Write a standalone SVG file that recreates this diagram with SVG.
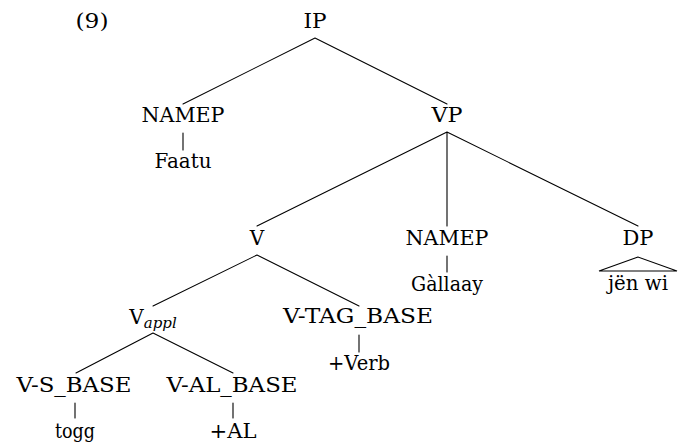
<svg xmlns="http://www.w3.org/2000/svg" width="691" height="448" viewBox="0 0 691 448">
  <style>
    .lbl { font-family: 'DejaVu Serif', 'Liberation Serif', serif; font-size: 20px; fill: #000; text-anchor: middle; }
    .edge { stroke: #000; stroke-width: 1.1; fill: none; stroke-linecap: round; }
  </style>
  <rect width="691" height="448" fill="#fff"/>
  <text class="lbl" x="92" y="28" textLength="33" lengthAdjust="spacingAndGlyphs">(9)</text>

  <!-- tree edges -->
  <g id="connectors">
    <path class="edge" d="M315,38 L183,104 M315,38 L447,104"/>
    <path class="edge" d="M183,133 L183,150"/>
    <path class="edge" d="M447,132 L257,226 M447,132 L447,226 M447,132 L638,226"/>
    <path class="edge" d="M257,255 L153,306 M257,255 L359,306"/>
    <path class="edge" d="M447,256 L447,272"/>
    <path class="edge" d="M638,257 L599,271 L677,271 Z"/>
    <path class="edge" d="M153,333 L76,373 M153,333 L233,373"/>
    <path class="edge" d="M359,335 L359,352"/>
    <path class="edge" d="M75,403 L75,418 M233,403 L233,418"/>
  </g>

  <g id="ip"><text class="lbl" x="315" y="28" textLength="23" lengthAdjust="spacingAndGlyphs">IP</text></g>
  <g id="namep1"><text class="lbl" x="183" y="122" textLength="83" lengthAdjust="spacingAndGlyphs">NAMEP</text></g>
  <g id="faatu"><text class="lbl" x="183" y="168" textLength="57" lengthAdjust="spacingAndGlyphs">Faatu</text></g>
  <g id="vp"><text class="lbl" x="447" y="122" textLength="31" lengthAdjust="spacingAndGlyphs">VP</text></g>
  <g id="v"><text class="lbl" x="257" y="245">V</text></g>
  <g id="namep2"><text class="lbl" x="447" y="245" textLength="83" lengthAdjust="spacingAndGlyphs">NAMEP</text></g>
  <g id="gallaay"><text class="lbl" x="447" y="291" textLength="72" lengthAdjust="spacingAndGlyphs">Gàllaay</text></g>
  <g id="dp"><text class="lbl" x="638" y="245" textLength="31" lengthAdjust="spacingAndGlyphs">DP</text></g>
  <g id="jenwi"><text class="lbl" x="638" y="290" textLength="60" lengthAdjust="spacingAndGlyphs">jën wi</text></g>
  <g id="vappl"><text class="lbl" x="153" y="324">V<tspan font-style="italic" font-size="15" dy="4">appl</tspan></text></g>
  <g id="vtagbase"><text class="lbl" x="358" y="323" textLength="150" lengthAdjust="spacingAndGlyphs">V-TAG_BASE</text></g>
  <g id="verb"><text class="lbl" x="359" y="370" textLength="62" lengthAdjust="spacingAndGlyphs">+Verb</text></g>
  <g id="vsbase"><text class="lbl" x="74" y="392" textLength="115" lengthAdjust="spacingAndGlyphs">V-S_BASE</text></g>
  <g id="togg"><text class="lbl" x="75" y="438" textLength="40" lengthAdjust="spacingAndGlyphs">togg</text></g>
  <g id="valbase"><text class="lbl" x="232" y="392" textLength="131" lengthAdjust="spacingAndGlyphs">V-AL_BASE</text></g>
  <g id="al"><text class="lbl" x="233" y="438" textLength="47" lengthAdjust="spacingAndGlyphs">+AL</text></g>
</svg>
